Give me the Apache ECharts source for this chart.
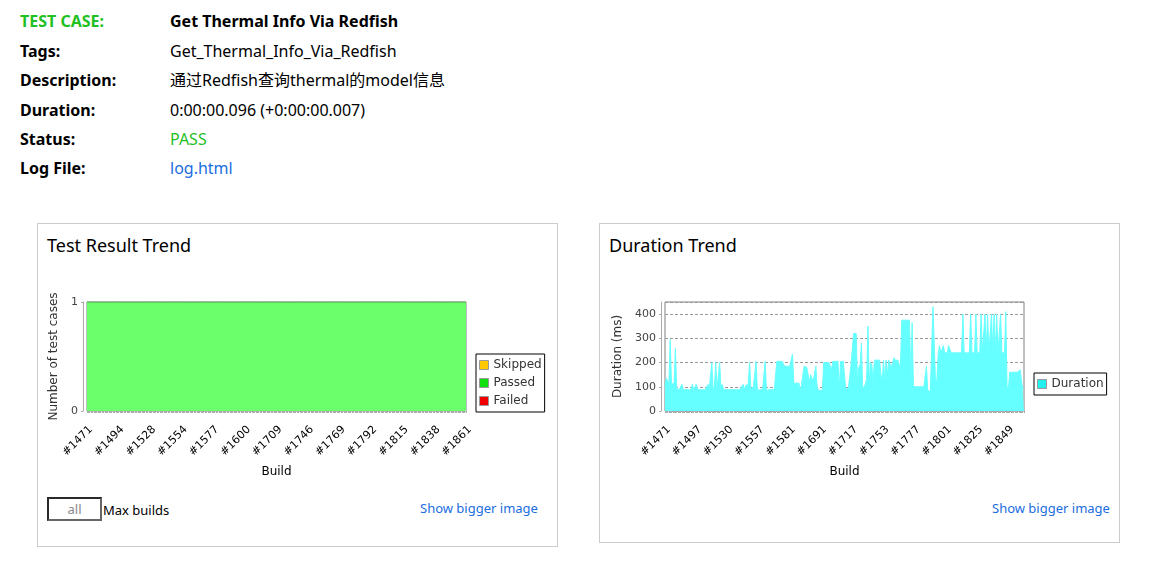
<!DOCTYPE html>
<html>
<head>
<meta charset="utf-8">
<title>Get Thermal Info Via Redfish</title>
<script src="https://cdn.jsdelivr.net/npm/echarts@6/dist/echarts.min.js"></script>
<style>
  body { margin: 0; background: #fff; color: #000; font-family: 'Noto Sans', 'Noto Sans CJK SC', sans-serif; }
  #page { position: relative; width: 1150px; height: 570px; overflow: hidden; }
  .row { position: absolute; left: 20px; height: 22px; line-height: 22px; font-size: 16px; white-space: nowrap; }
  .row .k { position: absolute; left: 0; font-weight: bold; }
  .row .v { position: absolute; left: 150px; }
  .green { color: #1fc01f; }
  .blue { color: #1a6ee0; }
  .panel { position: absolute; top: 223px; width: 521px; border: 1px solid #ccc; box-sizing: border-box; }
  .panel .title { position: absolute; left: 9px; top: 9px; font-size: 18px; line-height: 24px; }
  .chart { position: absolute; top: 282px; width: 500px; height: 200px; }
  .small { position: absolute; font-size: 13px; line-height: 18px; white-space: nowrap; }
  .maxbox { position: absolute; left: 47px; top: 497px; width: 55px; height: 24px; box-sizing: border-box;
            border: 2px solid #666; border-top-color: #2a2a2a; border-left-color: #2a2a2a;
            font-size: 13px; line-height: 20px; text-align: center; color: #888; }
</style>
</head>
<body>
<div id="page">
  <div class="row" style="top:10px"><span class="k green">TEST CASE:</span><span class="v" style="font-weight:bold">Get Thermal Info Via Redfish</span></div>
  <div class="row" style="top:40px"><span class="k">Tags:</span><span class="v">Get_Thermal_Info_Via_Redfish</span></div>
  <div class="row" style="top:69px"><span class="k">Description:</span><span class="v">通过Redfish查询thermal的model信息</span></div>
  <div class="row" style="top:99px"><span class="k">Duration:</span><span class="v">0:00:00.096 (+0:00:00.007)</span></div>
  <div class="row" style="top:128px"><span class="k">Status:</span><span class="v green">PASS</span></div>
  <div class="row" style="top:157px"><span class="k">Log File:</span><span class="v blue">log.html</span></div>

  <div class="panel" style="left:37px;height:324px"><div class="title">Test Result Trend</div></div>
  <div class="panel" style="left:599px;height:320px"><div class="title">Duration Trend</div></div>

  <div id="trend" class="chart" style="left:47px"></div>
  <div id="duration" class="chart" style="left:610px"></div>

  <div class="maxbox">all</div>
  <div class="small" style="left:103px;top:501px">Max builds</div>
  <div class="small blue" style="left:420px;top:499px">Show bigger image</div>
  <div class="small blue" style="left:992px;top:499px">Show bigger image</div>
</div>

<script>
// build numbers on the x axis (some builds are missing from the history)
var builds = [
  1471,1472,1473,1474,1475,1476,1477,1478,1479,1480,1481,1482,1483,1484,1485,1486,1487,1488,1489,1490,1491,1492,1493,1494,
  1497,1498,1499,1500,1501,1502,1503,1504,1505,1506,1507,1508,1509,1510,
  1520,1521,1522,1523,1524,1525,1526,1527,1528,1529,
  1530,1531,1532,1533,1534,1535,1536,1537,1538,1539,1540,
  1544,1545,1546,1547,1548,1549,1550,1551,1552,1553,1554,
  1555,1556,1557,1558,1559,1560,1561,1562,1563,1564,1565,1566,1567,1568,1569,1570,1571,1572,1573,1574,1575,1576,1577,
  1578,1579,1580,1581,1582,1583,1584,1585,1586,1587,1588,1589,1590,1591,1592,1593,1594,1595,1596,1597,1598,1599,
  1600,1601,1602,1603,1604,
  1691,1692,1693,1694,1695,1696,1697,1698,1699,1700,1701,1702,1703,1704,1705,1706,1707,1708,1709,1710,1711,1712,
  1715,1716,1717,1718,1719,1720,1721,1722,1723,1724,1725,1726,1727,1728,1729,1730,
  1743,1744,1745,1746,1747,1748,1749,1750,1751,1752,1753,1754,1755,1756,1757,1758,1759,1760,1761,1762,1763,1764,1765,
  1766,1767,1768,1769,1770,1771,1772,1773,1774,1775,1776,1777,1778,1779,1780,1781,1782,1783,1784,1785,1786,1787,1788,
  1789,1790,1791,1792,1793,1794,1795,1796,1797,1798,1799,1800,1801,1802,1803,1804,1805,1806,1807,1808,1809,1810,1811,
  1812,1813,1814,1815,1816,1817,1818,1819,1820,1821,1822,1823,1824,1825,1826,1827,1828,1829,1830,1831,1832,1833,1834,
  1835,1836,1837,1838,1839,1840,1841,1842,1843,1844,1845,1846,1847,1848,1849,1850,1851,1852,1853,1854,1855,1856,1857,
  1858,1859,1860,1861
];

// test counts per build
var passed = [
  1,1,1,1,1,1,1,1,1,1,1,1,1,1,1,1,1,1,1,1, 1,1,1,1,1,1,1,1,1,1,1,1,1,1,1,1,1,1,1,1,
  1,1,1,1,1,1,1,1,1,1,1,1,1,1,1,1,1,1,1,1, 1,1,1,1,1,1,1,1,1,1,1,1,1,1,1,1,1,1,1,1,
  1,1,1,1,1,1,1,1,1,1,1,1,1,1,1,1,1,1,1,1, 1,1,1,1,1,1,1,1,1,1,1,1,1,1,1,1,1,1,1,1,
  1,1,1,1,1,1,1,1,1,1,1,1,1,1,1,1,1,1,1,1, 1,1,1,1,1,1,1,1,1,1,1,1,1,1,1,1,1,1,1,1,
  1,1,1,1,1,1,1,1,1,1,1,1,1,1,1,1,1,1,1,1, 1,1,1,1,1,1,1,1,1,1,1,1,1,1,1,1,1,1,1,1,
  1,1,1,1,1,1,1,1,1,1,1,1,1,1,1,1,1,1,1,1, 1,1,1,1,1,1,1,1,1,1,1,1,1,1,1,1,1,1,1,1,
  1,1,1,1,1,1,1,1,1,1,1,1,1,1,1,1,1,1,1,1,
  1,1,1,1,1,1,1,1,1,1,1,1,1,1,1,1,1
];
var failed = [
  0,0,0,0,0,0,0,0,0,0,0,0,0,0,0,0,0,0,0,0, 0,0,0,0,0,0,0,0,0,0,0,0,0,0,0,0,0,0,0,0,
  0,0,0,0,0,0,0,0,0,0,0,0,0,0,0,0,0,0,0,0, 0,0,0,0,0,0,0,0,0,0,0,0,0,0,0,0,0,0,0,0,
  0,0,0,0,0,0,0,0,0,0,0,0,0,0,0,0,0,0,0,0, 0,0,0,0,0,0,0,0,0,0,0,0,0,0,0,0,0,0,0,0,
  0,0,0,0,0,0,0,0,0,0,0,0,0,0,0,0,0,0,0,0, 0,0,0,0,0,0,0,0,0,0,0,0,0,0,0,0,0,0,0,0,
  0,0,0,0,0,0,0,0,0,0,0,0,0,0,0,0,0,0,0,0, 0,0,0,0,0,0,0,0,0,0,0,0,0,0,0,0,0,0,0,0,
  0,0,0,0,0,0,0,0,0,0,0,0,0,0,0,0,0,0,0,0, 0,0,0,0,0,0,0,0,0,0,0,0,0,0,0,0,0,0,0,0,
  0,0,0,0,0,0,0,0,0,0,0,0,0,0,0,0,0,0,0,0,
  0,0,0,0,0,0,0,0,0,0,0,0,0,0,0,0,0
];
var skipped = failed.slice(); // nothing was skipped either

// duration in ms per build
var durations = [
  105,135,125,115,295,110,105,115,258,92,
  88,88,88,110,88,88,88,88,88,88,
  88,110,88,88,110,88,88,88,88,88,
  88,88,88,110,88,95,200,90,100,200,
  90,95,200,100,110,88,88,88,88,88,
  88,88,88,88,88,88,88,88,88,100,
  110,88,105,100,110,200,90,95,100,105,
  205,85,85,88,88,88,88,205,85,88,
  88,88,88,88,88,88,205,205,205,205,
  205,205,185,185,185,185,185,185,235,115,
  115,115,115,115,80,110,105,185,185,180,
  150,120,150,135,125,120,185,95,100,85,
  85,85,200,200,200,200,200,200,170,205,
  205,205,205,205,95,205,205,205,205,90,
  95,95,95,190,190,320,320,320,120,180,
  190,280,90,100,110,130,350,120,200,190,
  120,210,210,210,210,210,150,125,210,125,
  210,150,210,210,180,200,220,210,210,210,
  210,175,375,375,375,375,375,375,375,110,
  365,100,100,100,100,100,100,100,100,100,
  100,185,85,80,80,80,430,430,120,130,
  230,270,240,245,270,240,240,240,270,265,
  240,240,240,240,240,240,240,240,240,400,
  240,240,240,240,240,400,240,240,240,400,
  240,240,240,400,240,235,400,240,400,240,
  240,400,240,400,240,400,240,240,400,240,
  240,240,410,100,90,160,160,160,160,160,
  160,160,160,170,175,90,90
];

var durationTicks = [0, 100, 200, 300, 400];

if (passed.length !== builds.length || durations.length !== builds.length) {
  console.error('length mismatch', builds.length, passed.length, durations.length);
}

var labels = builds.map(function (b) { return '#' + b; });
var chartFont = 'DejaVu Sans';

function buildAxis(labelInterval) {
  return {
    type: 'category',
    data: labels,
    boundaryGap: false,
    offset: 3,
    axisLine: { show: false },
    axisTick: { show: true, interval: 0, length: 2, lineStyle: { color: '#aaa', width: 1 } },
    axisLabel: {
      interval: labelInterval, rotate: 45, margin: 10, verticalAlign: 'top',
      hideOverlap: false,
      fontFamily: chartFont, fontSize: 11, color: '#000'
    },
    name: 'Build', nameLocation: 'middle', nameGap: 52,
    nameTextStyle: { fontFamily: chartFont, fontSize: 12, color: '#000' }
  };
}

function legendBox(left, top, names) {
  return {
    left: left, top: top, orient: 'vertical',
    selectedMode: false,
    icon: 'rect', itemWidth: 9, itemHeight: 9, itemGap: 4, itemTextGap: 4,
    padding: [4, 3, 4, 3],
    borderColor: '#000', borderWidth: 1,
    itemStyle: { borderColor: '#999', borderWidth: 1 },
    textStyle: { fontFamily: chartFont, fontSize: 12, color: '#333', lineHeight: 14 },
    data: names
  };
}

// --- Test Result Trend ---
var trend = echarts.init(document.getElementById('trend'), null, { renderer: 'canvas' });
trend.setOption({
  animation: false,
  grid: { left: 40, top: 20, width: 379, height: 109, show: true, borderColor: '#808080', borderWidth: 1, outerBoundsMode: 'none' },
  legend: legendBox(429, 72, ['Skipped', 'Passed', 'Failed']),
  xAxis: buildAxis(22),
  yAxis: {
    type: 'value', min: 0, max: 1, interval: 1, offset: 4,
    axisLine: { show: true, lineStyle: { color: '#aaa' } },
    axisTick: { show: true, length: 2, lineStyle: { color: '#aaa' } },
    axisLabel: { fontFamily: chartFont, fontSize: 11, color: '#444', margin: 5 },
    splitLine: { show: false },
    name: 'Number of test cases', nameLocation: 'middle', nameGap: 15,
    nameTextStyle: { fontFamily: chartFont, fontSize: 12, color: '#333' }
  },
  series: [
    { name: 'Failed', type: 'line', stack: 'tests', data: failed, symbol: 'none',
      itemStyle: { color: '#f00000' }, lineStyle: { width: 0 },
      areaStyle: { color: '#ff6666', opacity: 1 } },
    { name: 'Passed', type: 'line', stack: 'tests', data: passed, symbol: 'none',
      itemStyle: { color: '#10e010' }, lineStyle: { width: 1, color: '#4c9a4c' },
      areaStyle: { color: '#6cff6c', opacity: 1 } },
    { name: 'Skipped', type: 'line', stack: 'tests', data: skipped, symbol: 'none',
      itemStyle: { color: '#ffc800' }, lineStyle: { width: 0 },
      areaStyle: { color: '#ffdd66', opacity: 1 } }
  ]
});

// --- Duration Trend ---
var duration = echarts.init(document.getElementById('duration'), null, { renderer: 'canvas' });
duration.setOption({
  animation: false,
  grid: { left: 55, top: 20, width: 359, height: 109, show: true, borderColor: '#808080', borderWidth: 1, outerBoundsMode: 'none' },
  legend: legendBox(424, 91, ['Duration']),
  xAxis: buildAxis(23),
  yAxis: {
    type: 'value', min: 0, max: 450, interval: 100, offset: 4,
    axisLine: { show: true, lineStyle: { color: '#aaa' } },
    axisTick: { show: true, length: 2, lineStyle: { color: '#aaa' } },
    axisLabel: {
      fontFamily: chartFont, fontSize: 11, color: '#444', margin: 5, showMaxLabel: false,
      formatter: function (v) { return durationTicks.indexOf(v) >= 0 ? String(v) : ''; }
    },
    splitLine: { show: true, lineStyle: { color: '#999', type: [3, 2], width: 1 } },
    name: 'Duration (ms)', nameLocation: 'middle', nameGap: 31,
    nameTextStyle: { fontFamily: chartFont, fontSize: 12, color: '#333' }
  },
  series: [
    { name: 'Duration', type: 'line', data: durations, symbol: 'none', sampling: 'none',
      itemStyle: { color: '#22eeee' }, lineStyle: { width: 1, color: '#66ffff' },
      areaStyle: { color: '#66ffff', opacity: 1 } }
  ]
});
</script>
</body>
</html>
